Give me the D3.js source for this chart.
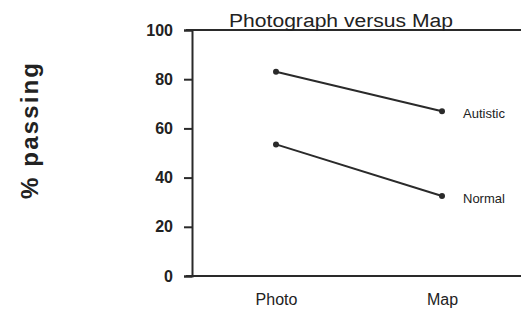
<!DOCTYPE html>
<html><head><meta charset="utf-8">
<script src="https://cdn.jsdelivr.net/npm/d3@7"></script>
<style>body{margin:0;background:#fff}svg{display:block}text{font-family:"Liberation Sans",Arial,sans-serif;fill:#222}</style>
</head><body><div id="c"></div>
<script>
const categories = ["Photo", "Map"];
const seriesNames = ["Autistic", "Normal"];
const autistic = [83, 67];
const normal = [53.5, 32.5];
const yTicks = [0, 20, 40, 60, 80, 100];
const title = "Photograph versus Map";
const yLabel = "% passing";

const W = 521, H = 312;
const svg = d3.select("#c").append("svg").attr("width", W).attr("height", H);
const x0 = 192, xEnd = 521, yTop = 30, yBot = 276;
const x = d3.scalePoint().domain(categories).range([276, 442]);
const y = d3.scaleLinear().domain([0, 100]).range([yBot, yTop]);
const ink = "#2a2a2a";

// y axis
const ya = svg.append("g").attr("transform", `translate(${x0},0)`)
  .call(d3.axisLeft(y).tickValues(yTicks).tickSize(8).tickPadding(11));
ya.select(".domain").attr("stroke", ink).attr("stroke-width", 2);
ya.selectAll(".tick line").attr("stroke", ink).attr("stroke-width", 2);
ya.selectAll(".tick text").style("font-size", "16px").style("font-weight", "bold").attr("fill", "#222");

// frame lines (top and bottom)
svg.append("line").attr("x1", x0 - 6).attr("x2", xEnd).attr("y1", y(100)).attr("y2", y(100)).attr("stroke", ink).attr("stroke-width", 2);
svg.append("line").attr("x1", x0 - 6).attr("x2", xEnd).attr("y1", y(0)).attr("y2", y(0)).attr("stroke", ink).attr("stroke-width", 2);

// x axis labels
const xa = svg.append("g").attr("transform", `translate(0,${yBot})`)
  .call(d3.axisBottom(x).tickSize(0).tickPadding(18));
xa.select(".domain").remove();
xa.selectAll(".tick text").style("font-size", "16px").attr("fill", "#222");

// title
svg.append("text").attr("x", 341).attr("y", 27).attr("text-anchor", "middle").style("font-size", "18px")
  .attr("textLength", 224).attr("lengthAdjust", "spacingAndGlyphs").text(title);

// y label
svg.append("text").attr("transform", "translate(38,131) rotate(-90)").attr("text-anchor", "middle")
  .style("font-size", "24px").style("font-weight", "bold")
  .attr("textLength", 136).attr("lengthAdjust", "spacing").text(yLabel);

// series
const series = [autistic, normal];
const line = d3.line().x((d, i) => x(categories[i])).y(d => y(d));
series.forEach((vals, si) => {
  svg.append("path").attr("d", line(vals)).attr("fill", "none").attr("stroke", ink).attr("stroke-width", 2);
  svg.selectAll(null).data(vals).enter().append("circle")
    .attr("cx", (d, i) => x(categories[i])).attr("cy", d => y(d)).attr("r", 3).attr("fill", ink);
  svg.append("text").attr("x", 463).attr("y", y(vals[1]) + 6.5).style("font-size", "13px").text(seriesNames[si]);
});
</script></body></html>
